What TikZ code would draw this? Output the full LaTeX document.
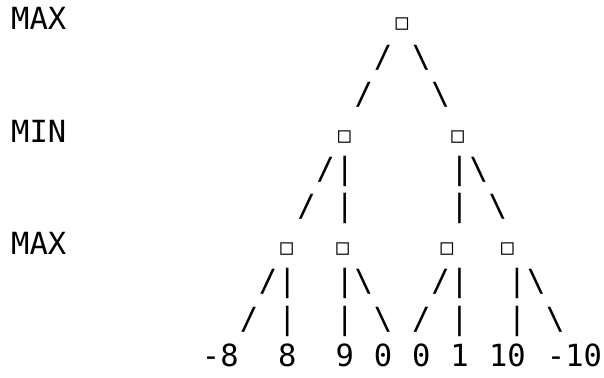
\documentclass[tikz,border=0pt]{standalone}
\usepackage{fontspec}
\usepackage{tikz}
\newfontfamily\monofont{DejaVu Sans Mono}

\begin{document}
\begin{tikzpicture}[
  x=19.15pt, y=-37.4pt,
  every node/.style={inner sep=0pt, outer sep=0pt, anchor=base},
  glyph/.style={font=\monofont\fontsize{30.5}{37.4}\selectfont},
  level/.style={glyph, anchor=base west},
  state/.style={font=\monofont\fontsize{21}{21}\selectfont},
]
\useasboundingbox (-1.003,-0.802) rectangle (30.54,9.305);

% player labels
\node[level] (lmaxa) at (-0.42,0) {MAX};
\node[level] (lmin)  at (-0.42,3) {MIN};
\node[level] (lmaxb) at (-0.42,6) {MAX};

% states
\node[state] (root) at (19.99,0) {□};
\node[state] (a)    at (16.99,3) {□};
\node[state] (b)    at (22.90,3) {□};
\node[state] (aa)   at (13.97,6) {□};
\node[state] (ab)   at (16.90,6) {□};
\node[state] (ba)   at (22.34,6) {□};
\node[state] (bb)   at (25.50,6) {□};

% root -> MIN
\node[glyph] (ra1) at (19,1) {/};
\node[glyph] (rb1) at (21,1) {\textbackslash};
\node[glyph] (ra2) at (18,2) {/};
\node[glyph] (rb2) at (22,2) {\textbackslash};

% MIN -> MAX
\node[glyph] (aaa1) at (16,4) {/};
\node[glyph] (aab1) at (17,4) {|};
\node[glyph] (bba1) at (23,4) {|};
\node[glyph] (bbb1) at (24,4) {\textbackslash};
\node[glyph] (aaa2) at (15,5) {/};
\node[glyph] (aab2) at (17,5) {|};
\node[glyph] (bba2) at (23,5) {|};
\node[glyph] (bbb2) at (25,5) {\textbackslash};

% MAX -> leaves
\node[glyph] (e11) at (13,7) {/};
\node[glyph] (e21) at (14,7) {|};
\node[glyph] (e31) at (17,7) {|};
\node[glyph] (e41) at (18,7) {\textbackslash};
\node[glyph] (e51) at (22,7) {/};
\node[glyph] (e61) at (23,7) {|};
\node[glyph] (e71) at (26,7) {|};
\node[glyph] (e81) at (27,7) {\textbackslash};
\node[glyph] (e12) at (12,8) {/};
\node[glyph] (e22) at (14,8) {|};
\node[glyph] (e32) at (17,8) {|};
\node[glyph] (e42) at (19,8) {\textbackslash};
\node[glyph] (e52) at (21,8) {/};
\node[glyph] (e62) at (23,8) {|};
\node[glyph] (e72) at (26,8) {|};
\node[glyph] (e82) at (28,8) {\textbackslash};

% leaf values
\node[glyph] (v1) at (10.5,9) {-8};
\node[glyph] (v2) at (14,9)   {8};
\node[glyph] (v3) at (17,9)   {9};
\node[glyph] (v4) at (19,9)   {0};
\node[glyph] (v5) at (21,9)   {0};
\node[glyph] (v6) at (23,9)   {1};
\node[glyph] (v7) at (25.5,9) {10};
\node[glyph] (v8) at (29,9)   {-10};
\end{tikzpicture}
\end{document}
